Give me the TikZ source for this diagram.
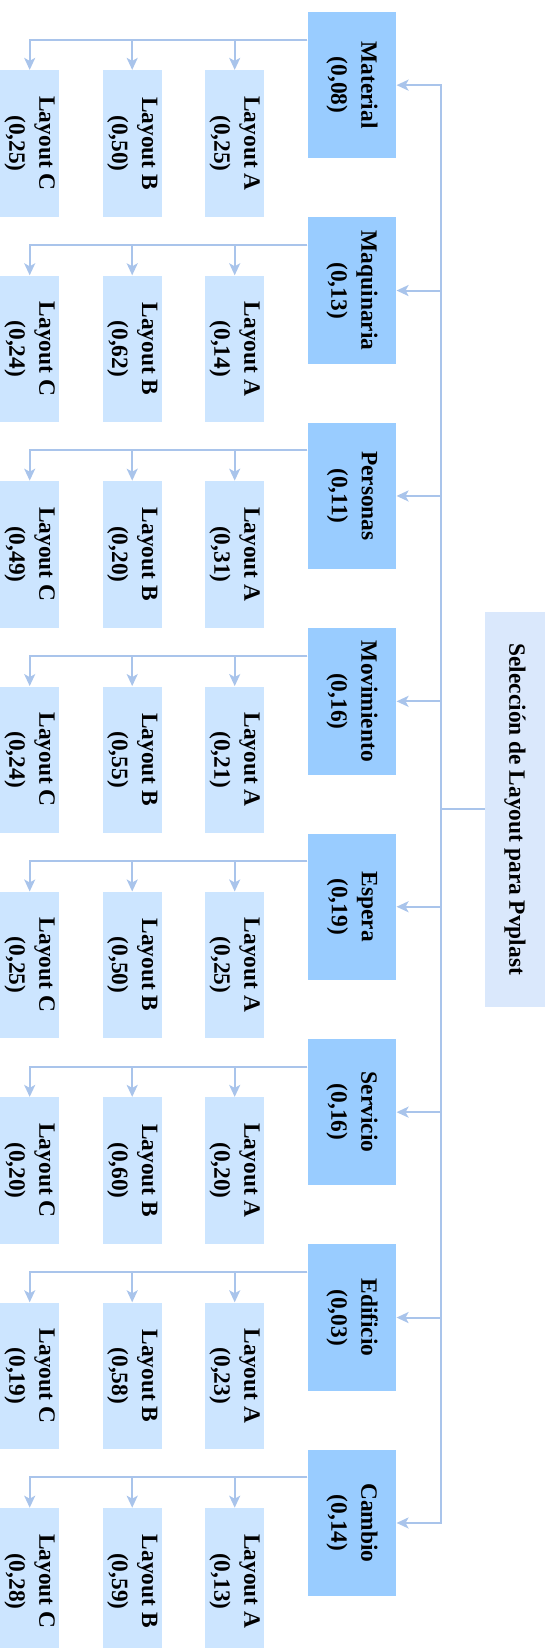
\documentclass[tikz,border=0pt]{standalone}
\usepackage{fontspec}
\setmainfont{Liberation Serif}
\usetikzlibrary{arrows.meta}

\definecolor{critfill}{RGB}{153,204,255}
\definecolor{layfill}{RGB}{204,229,255}
\definecolor{rootfill}{RGB}{218,232,252}
\definecolor{connline}{RGB}{169,196,235}

\tikzset{
  critbox/.style={fill=critfill, rotate=-90, minimum width=73.15pt, minimum height=44.15pt,
    align=center, inner sep=0pt, font=\fontsize{11.7}{15}\selectfont\bfseries},
  laybox/.style={fill=layfill, rotate=-90, minimum width=73.2pt, minimum height=29.65pt,
    align=center, inner sep=0pt, font=\fontsize{11.7}{15}\selectfont\bfseries},
  rootbox/.style={fill=rootfill, rotate=-90, minimum width=197.6pt, minimum height=30pt,
    align=center, inner sep=0pt, font=\fontsize{11.7}{15}\selectfont\bfseries},
  conn/.style={connline, line width=1pt, -{Stealth[length=6pt, width=5.5pt, inset=1.5pt]}}
}

\begin{document}
\begin{tikzpicture}[x=0.5pt, y=-0.5pt]

  \useasboundingbox (0,0) rectangle (553,1648);

  % root
  \node[rootbox] (root) at (515,809.3) {Selección de Layout para Pvplast};
  \coordinate (spine) at (441,0);

  % criteria and layouts
  \foreach \name/\w/\a/\b/\c [count=\i from 0] in {
      Material/{0,08}/{0,25}/{0,50}/{0,25},
      Maquinaria/{0,13}/{0,14}/{0,62}/{0,24},
      Personas/{0,11}/{0,31}/{0,20}/{0,49},
      Movimiento/{0,16}/{0,21}/{0,55}/{0,24},
      Espera/{0,19}/{0,25}/{0,50}/{0,25},
      Servicio/{0,16}/{0,20}/{0,60}/{0,20},
      Edificio/{0,03}/{0,23}/{0,58}/{0,19},
      Cambio/{0,14}/{0,13}/{0,59}/{0,28}} {
    \pgfmathsetmacro\gy{12+\i*205.4}
    \node[critbox] (c\i) at (352,\gy+73.15) {\name\\(\w)};
    \node[laybox] (lA\i) at (234.7,\gy+131.5) {Layout A\\(\a)};
    \node[laybox] (lB\i) at (132.2,\gy+131.5) {Layout B\\(\b)};
    \node[laybox] (lC\i) at (29.7,\gy+131.5) {Layout C\\(\c)};
    \path (c\i.south west) ++(0,28) coordinate (br\i);
    \draw[conn] (br\i) -| (lC\i.west);
    \draw[conn] (br\i) -| (lB\i.west);
    \draw[conn] (br\i) -| (lA\i.west);
    \draw[conn] (root.south) -- (root.south -| spine) |- (c\i.north);
  }

\end{tikzpicture}
\end{document}
